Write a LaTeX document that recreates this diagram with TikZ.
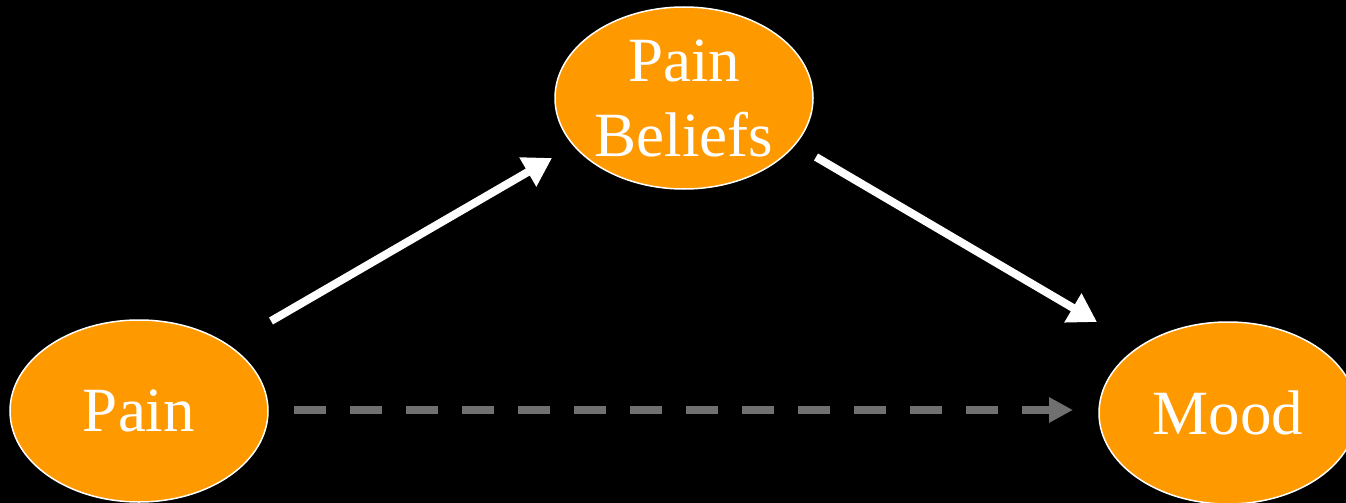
\documentclass[tikz,border=0pt]{standalone}
\usepackage{fontspec}
\setmainfont{Liberation Serif}
\usetikzlibrary{shapes.geometric,arrows.meta}
\definecolor{nodeorange}{RGB}{255,153,0}
\definecolor{dashgray}{RGB}{112,112,112}
\tikzset{
  oval/.style={ellipse, draw=white, line width=1.5pt, fill=nodeorange, inner sep=0pt,
    minimum width=258pt, minimum height=182pt, text=white,
    font=\fontsize{63}{75}\selectfont, align=center},
  solidarrow/.style={draw=white, line width=8pt, -{Triangle[length=28pt,width=32pt]}},
  dasharrow/.style={draw=dashgray, line width=8pt, dash pattern=on 32pt off 24pt,
    -{Triangle[length=24pt,width=24pt]}}
}
\begin{document}
\begin{tikzpicture}[x=1pt,y=-1pt]
\fill[black] (0,0) rectangle (1346,503);
\useasboundingbox (0,0) rectangle (1346,503);
\node[oval] (pain) at (139,411) {Pain};
\node[oval] (beliefs) at (684,98) {Pain\\Beliefs};
\node[oval] (mood) at (1228,413) {Mood};
\coordinate (a1s) at (271,321);
\coordinate (a1e) at (552,158);
\coordinate (a2s) at (816,157);
\coordinate (a2e) at (1097,322);
\coordinate (a3s) at (294,410);
\coordinate (a3e) at (1073,410);
\draw[solidarrow] (a1s) -- (a1e);
\draw[solidarrow] (a2s) -- (a2e);
\draw[dasharrow] (a3s) -- (a3e);
\end{tikzpicture}
\end{document}
